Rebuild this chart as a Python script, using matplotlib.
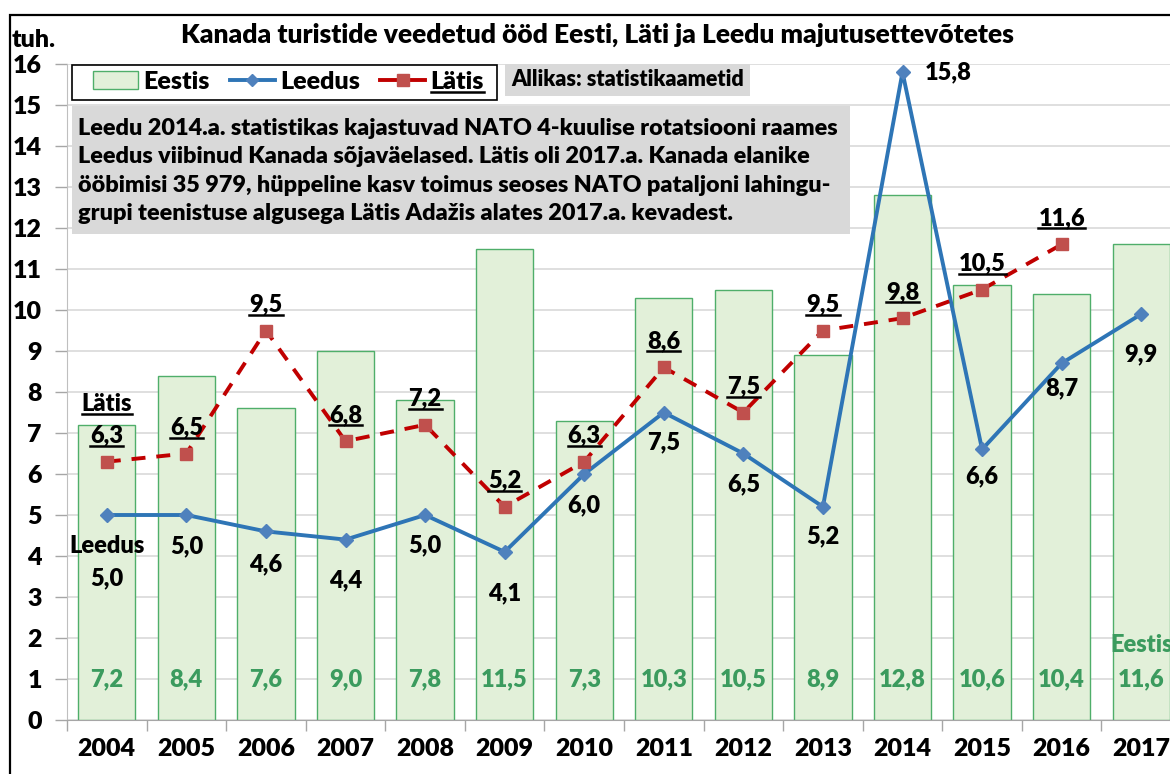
import matplotlib
matplotlib.use('Agg')
import matplotlib.pyplot as plt
from matplotlib.patches import Rectangle, Patch
from matplotlib.lines import Line2D

# ---------------- data ----------------
years = ['2004', '2005', '2006', '2007', '2008', '2009', '2010',
         '2011', '2012', '2013', '2014', '2015', '2016', '2017']
eestis = [7.2, 8.4, 7.6, 9.0, 7.8, 11.5, 7.3, 10.3, 10.5, 8.9, 12.8, 10.6, 10.4, 11.6]
leedus = [5.0, 5.0, 4.6, 4.4, 5.0, 4.1, 6.0, 7.5, 6.5, 5.2, 15.8, 6.6, 8.7, 9.9]
latis = [6.3, 6.5, 9.5, 6.8, 7.2, 5.2, 6.3, 8.6, 7.5, 9.5, 9.8, 10.5, 11.6]  # 2004-2016
yticks = list(range(0, 17))

title = 'Kanada turistide veedetud ööd Eesti, Läti ja Leedu majutusettevõtetes'
unit = 'tuh.'
source = 'Allikas: statistikaametid'
note = ('Leedu 2014.a. statistikas kajastuvad NATO 4-kuulise rotatsiooni raames\n'
        'Leedus viibinud Kanada sõjaväelased. Lätis oli 2017.a. Kanada elanike\n'
        'ööbimisi 35 979, hüppeline kasv toimus seoses NATO pataljoni lahingu-\n'
        'grupi teenistuse algusega Lätis Adažis alates 2017.a. kevadest.')

# ---------------- style ----------------
FONT = 'Lato'
WEIGHT = 'heavy'
plt.rcParams['font.family'] = [FONT, 'DejaVu Sans']
plt.rcParams['font.weight'] = WEIGHT
W, H = 1170, 774
BAR_FACE = '#E2F0D9'
BAR_EDGE = '#4FAE6A'
BLUE_LINE = '#2E75B6'
BLUE_MARK = '#4F81BD'
RED_LINE = '#C00000'
RED_MARK = '#C0504D'
GREEN_TXT = '#3B9B5E'
GRID = '#D9D9D9'
BOXGREY = '#D9D9D9'
LBL = 17


def fmt(v):
    return f'{v:.1f}'.replace('.', ',')


fig = plt.figure(figsize=(W / 100, H / 100), dpi=100)
fig.patch.set_facecolor('white')
ax = fig.add_axes([67 / W, 1 - 720 / H, 1114 / W, 656 / H])

x = list(range(len(years)))
ax.bar(x, eestis, width=0.72, color=BAR_FACE, edgecolor=BAR_EDGE, linewidth=1.0, zorder=2)
ax.plot(x, leedus, color=BLUE_LINE, lw=2.8, zorder=4,
        marker='D', ms=7, mfc=BLUE_MARK, mec=BLUE_MARK)
ax.plot(x[:len(latis)], latis, color=RED_LINE, lw=2.8, ls=(0, (3.6, 2.8)), zorder=5,
        marker='s', ms=9, mfc=RED_MARK, mec=RED_MARK)

ax.set_xlim(-0.5, len(years) - 0.5)
ax.set_ylim(0, 16)
ax.set_yticks(yticks)
ax.set_yticklabels([str(t) for t in yticks], fontsize=18, fontweight=WEIGHT)
ax.set_xticks(x)
ax.set_xticklabels(years, fontsize=18, fontweight=WEIGHT)
ax.set_xticks([i - 0.5 for i in range(len(years) + 1)], minor=True)
ax.tick_params(axis='x', which='major', length=0, pad=13)
ax.tick_params(axis='x', which='minor', length=8, color='#A6A6A6', width=1)
ax.tick_params(axis='y', length=9, color='#A6A6A6', width=1, pad=9)
ax.grid(axis='y', color=GRID, lw=1.2, zorder=0)
ax.set_axisbelow(True)
for s in ['top', 'right']:
    ax.spines[s].set_visible(False)
ax.spines['left'].set_color('#BFBFBF')
ax.spines['bottom'].set_color('#A6A6A6')

underline_texts = []

# Eestis labels
for i, v in enumerate(eestis):
    ax.text(i, 1.0, fmt(v), ha='center', va='center', fontsize=LBL,
            fontweight=WEIGHT, color=GREEN_TXT, zorder=6)
ax.text(len(years) - 1, 1.83, 'Eestis', ha='center', va='center', fontsize=LBL,
        fontweight=WEIGHT, color=GREEN_TXT, zorder=6)

# Leedus labels
leedus_off = [-63, -31, -33, -41, -30, -41, -31, -30, -31, -30, 0, -27, -25, -40]
for i, v in enumerate(leedus):
    if i == 10:
        ax.annotate(fmt(v), (i, v), xytext=(22, 0), textcoords='offset pixels',
                    ha='left', va='center', fontsize=LBL, fontweight=WEIGHT, zorder=7)
    else:
        ax.annotate(fmt(v), (i, v), xytext=(0, leedus_off[i]), textcoords='offset pixels',
                    ha='center', va='center', fontsize=LBL, fontweight=WEIGHT, zorder=7)
ax.annotate('Leedus', (0, leedus[0]), xytext=(0, -31), textcoords='offset pixels',
            ha='center', va='center', fontsize=LBL, fontweight=WEIGHT, zorder=7)

# Latis labels (underlined)
for i, v in enumerate(latis):
    t = ax.annotate(fmt(v), (i, v), xytext=(0, 26), textcoords='offset pixels',
                    ha='center', va='center', fontsize=LBL, fontweight=WEIGHT, zorder=7)
    underline_texts.append(t)
t = ax.annotate('Lätis', (0, latis[0]), xytext=(0, 58), textcoords='offset pixels',
                ha='center', va='center', fontsize=LBL, fontweight=WEIGHT, zorder=7)
underline_texts.append(t)

# Title and unit
fig.text(597 / W, 1 - 35 / H, title, ha='center', va='center', fontsize=19, fontweight=WEIGHT)
fig.text(12 / W, 1 - 40 / H, unit, ha='left', va='center', fontsize=18, fontweight=WEIGHT)

# Figure border
fig.patches.append(Rectangle((10 / W, -0.5), 2.0, 0.5 + 1 - 15 / H, transform=fig.transFigure,
                             fill=False, edgecolor='black', lw=1.6, zorder=10))

# Legend (frame drawn separately to match padding)
fig.patches.append(Rectangle((72 / W, 1 - 100 / H), 425 / W, 35 / H, transform=fig.transFigure,
                             facecolor='white', edgecolor='black', lw=1.2, zorder=8))
handles = [Patch(facecolor=BAR_FACE, edgecolor=BAR_EDGE, lw=1.0),
           Line2D([], [], color=BLUE_LINE, lw=2.8, marker='D', ms=6, mfc=BLUE_MARK, mec=BLUE_MARK),
           Line2D([], [], color=RED_LINE, lw=2.8, marker='s', ms=8, mfc=RED_MARK, mec=RED_MARK)]
leg = fig.legend(handles, ['Eestis', 'Leedus', 'Lätis'], loc='center left',
                 bbox_to_anchor=(93 / W, 1 - 82 / H), bbox_transform=fig.transFigure,
                 ncol=3, frameon=False,
                 prop={'family': FONT, 'weight': WEIGHT, 'size': 18},
                 handlelength=1.8, handleheight=0.75, handletextpad=0.22, columnspacing=0.8,
                 borderpad=0, borderaxespad=0)
leg.set_zorder(9)
underline_texts.append(leg.get_texts()[2])

# Source box
fig.patches.append(Rectangle((505 / W, 1 - 96 / H), 245 / W, 32 / H, transform=fig.transFigure,
                             facecolor=BOXGREY, edgecolor='none', zorder=8))
fig.text(511 / W, 1 - 80 / H, source, ha='left', va='center', fontsize=15.5,
         fontweight=WEIGHT, zorder=9)

# Note box
fig.patches.append(Rectangle((72 / W, 1 - 234 / H), 778 / W, 128 / H, transform=fig.transFigure,
                             facecolor=BOXGREY, edgecolor='none', zorder=8))
fig.text(78 / W, 1 - 171 / H, note, ha='left', va='center', fontsize=16.8, fontweight=WEIGHT,
         linespacing=1.44, zorder=9)

# Underlines
fig.canvas.draw()
r = fig.canvas.get_renderer()
for t in underline_texts:
    bb = t.get_window_extent(r)
    y0 = bb.y0 + 1
    fig.add_artist(Line2D([bb.x0 / W, bb.x1 / W], [y0 / H, y0 / H], transform=fig.transFigure,
                          color='black', lw=1.8, zorder=30))

fig.savefig('out.png', dpi=100)
